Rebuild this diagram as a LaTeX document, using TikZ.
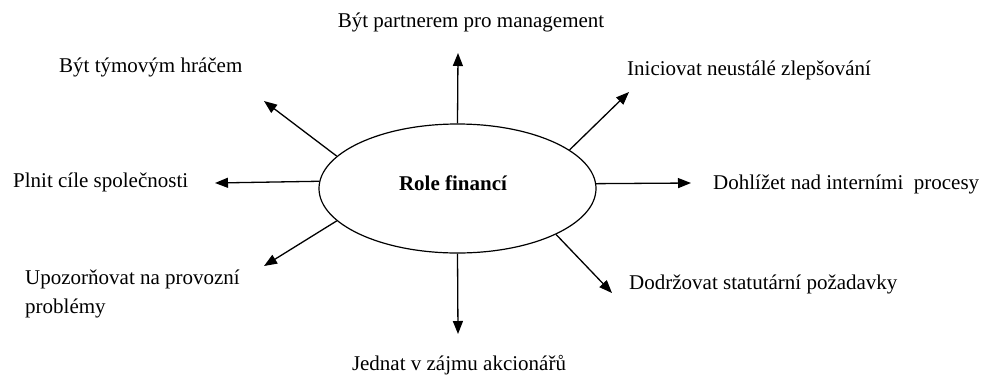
\documentclass[tikz,border=0pt]{standalone}
\usepackage{fontspec}
\setmainfont{Liberation Serif}
\usetikzlibrary{shapes.geometric,arrows.meta}
\begin{document}
\begin{tikzpicture}[x=1pt,y=-1pt,
  lbl/.style={inner sep=0pt,font=\fontsize{21}{29}\selectfont,align=left},
  conn/.style={line width=1.3pt,-{Triangle[length=13pt,width=10pt]}},
  hub/.style={ellipse,draw,line width=1.2pt,minimum width=277pt,minimum height=129pt,inner sep=0pt}]
\useasboundingbox (0,0) rectangle (982,376);
\node[hub] (e) at (457.5,188.5) {};
\node[lbl,font=\fontsize{21}{29}\selectfont\bfseries] (t) at (453,183) {Role financí};

\node[lbl,anchor=center] (n1) at (471,22) {Být partnerem pro management};
\node[lbl,anchor=west] (n2) at (627,70) {Iniciovat neustálé zlepšování};
\node[lbl,anchor=west] (n3) at (713,184) {Dohlížet nad interními\ \ procesy};
\node[lbl,anchor=west] (n4) at (629,284) {Dodržovat statutární požadavky};
\node[lbl,anchor=center] (n5) at (459,365) {Jednat v zájmu akcionářů};
\node[lbl,anchor=north west] (n6) at (25,270) {Upozorňovat na provozní\\problémy};
\node[lbl,anchor=west] (n7) at (13,182) {Plnit cíle společnosti};
\node[lbl,anchor=west] (n8) at (59,67) {Být týmovým hráčem};

\coordinate (a1) at (458,53);
\coordinate (a2) at (629,92);
\coordinate (a3) at (691,183);
\coordinate (a4) at (612,293);
\coordinate (a5) at (458,334);
\coordinate (a6) at (264,266);
\coordinate (a7) at (215,183);
\coordinate (a8) at (264,101);

\draw[conn] (e.90) -- (a1);
\draw[conn] (e.19.3) -- (a2);
\draw[conn] (e.2.3) -- (a3);
\draw[conn] (e.-25.8) -- (a4);
\draw[conn] (e.270) -- (a5);
\draw[conn] (e.195.7) -- (a6);
\draw[conn] (e.177.7) -- (a7);
\draw[conn] (e.165.7) -- (a8);
\end{tikzpicture}
\end{document}
